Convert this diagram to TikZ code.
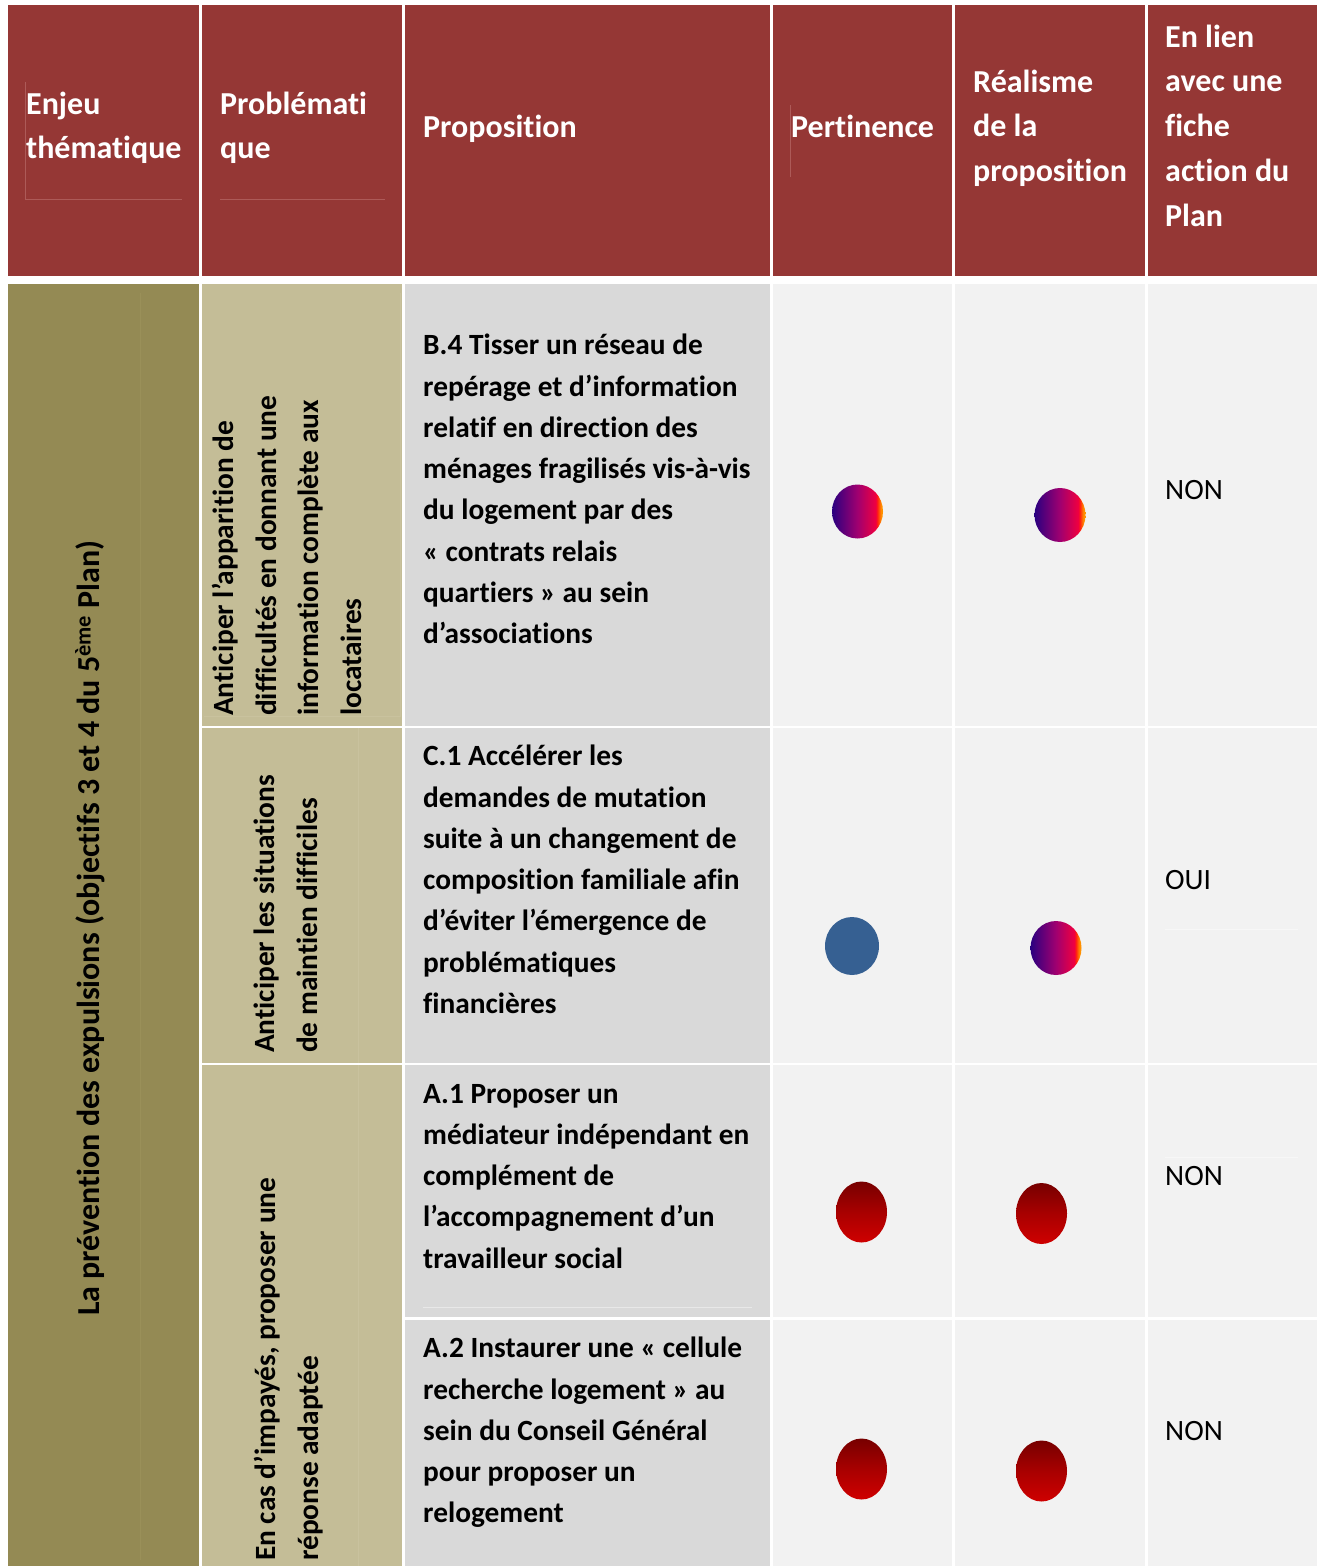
\documentclass[tikz,border=0pt]{standalone}
\usepackage{fontspec}
\setmainfont[Ligatures=NoCommon]{Carlito}
\usetikzlibrary{shapes.geometric}
\definecolor{hdr}{HTML}{953735}
\definecolor{olive}{HTML}{948A54}
\definecolor{khaki}{HTML}{C4BD97}
\definecolor{greyA}{HTML}{D9D9D9}
\definecolor{greyB}{HTML}{F2F2F2}
\definecolor{fainthdr}{HTML}{AD5A58}
\definecolor{faintolive}{HTML}{9A9059}
\definecolor{faintkhaki}{HTML}{C9C29E}
\definecolor{faintgrey}{HTML}{E8E8E8}
\definecolor{faintlight}{HTML}{F7F7F7}
\definecolor{c1}{HTML}{2A0080}
\definecolor{c2}{HTML}{A00070}
\definecolor{c3}{HTML}{F00040}
\definecolor{c4}{HTML}{FF2010}
\definecolor{c5}{HTML}{FF9000}
\definecolor{r1}{HTML}{770000}
\definecolor{rm}{HTML}{A80000}
\definecolor{r2}{HTML}{CC0000}
\definecolor{blueball}{HTML}{366092}
\pgfdeclarehorizontalshading{violetred}{100bp}{color(0bp)=(c1); color(25bp)=(c1); color(50bp)=(c2); color(68bp)=(c3); color(69.5bp)=(c4); color(73bp)=(c5); color(100bp)=(c5)}
\pgfdeclareverticalshading{darkred}{100bp}{color(0bp)=(r2); color(27bp)=(r2); color(50bp)=(rm); color(75bp)=(r1); color(100bp)=(r1)}
\newcommand{\st}{\rule{0pt}{20pt}}
\tikzset{
  x=1pt,y=-1pt,
  hcell/.style={fill=hdr},
  ocell/.style={fill=olive},
  kcell/.style={fill=khaki},
  gcell/.style={fill=greyA},
  lcell/.style={fill=greyB},
  htext/.style={anchor=north west,inner sep=0pt,align=left,text=white,font=\fontsize{32}{44.8}\selectfont\bfseries},
  btext/.style={anchor=north west,inner sep=0pt,align=left,text=black,font=\fontsize{29.35}{41.25}\selectfont\bfseries},
  ptext/.style={anchor=north west,inner sep=0pt,align=left,text=black,font=\fontsize{29.5}{41.25}\selectfont},
  vtext/.style={btext,rotate=90,font=\fontsize{29.35}{42.6}\selectfont\bfseries},
  ball/.style={ellipse,inner sep=0pt},
  vball/.style={ball,shading=violetred,minimum width=51pt,minimum height=54pt},
  rball/.style={ball,shading=darkred,minimum width=51pt,minimum height=61pt},
  bball/.style={ball,fill=blueball,minimum width=54pt,minimum height=58pt},
  rulefine/.style={line width=.7pt},
}
\begin{document}
\begin{tikzpicture}
\useasboundingbox (0,0) rectangle (1324,1566);
\fill[white] (0,0) rectangle (1324,1566);
% header cells
\fill[hcell] (8,5) rectangle (199,276);
\fill[hcell] (202,5) rectangle (402,276);
\fill[hcell] (405,5) rectangle (770,276);
\fill[hcell] (773,5) rectangle (952,276);
\fill[hcell] (955,5) rectangle (1145,276);
\fill[hcell] (1148,5) rectangle (1317,276);
% body cells
\fill[ocell] (8,284) rectangle (199,1566);
\fill[kcell] (202,284) rectangle (402,726);
\fill[kcell] (202,728) rectangle (402,1063);
\fill[kcell] (202,1065) rectangle (402,1566);
\fill[gcell] (405,284) rectangle (770,726);
\fill[gcell] (405,728) rectangle (770,1063);
\fill[gcell] (405,1065) rectangle (770,1317);
\fill[gcell] (405,1320) rectangle (770,1566);
\foreach \xa/\xb in {773/952,955/1145,1148/1317}{
  \fill[lcell] (\xa,284) rectangle (\xb,726);
  \fill[lcell] (\xa,728) rectangle (\xb,1063);
  \fill[lcell] (\xa,1065) rectangle (\xb,1317);
  \fill[lcell] (\xa,1320) rectangle (\xb,1566);
}
% faint rules
\draw[fainthdr,rulefine] (25.5,82) -- (25.5,199.5) -- (182,199.5);
\draw[fainthdr,rulefine] (220,199.5) -- (385,199.5);
\draw[fainthdr,rulefine] (790.5,105) -- (790.5,177);
\draw[faintolive,rulefine] (140.5,293) -- (140.5,1560);
\draw[faintkhaki,rulefine] (204,716.5) -- (400.5,716.5) -- (400.5,293);
\draw[faintkhaki,rulefine] (358.5,728) -- (358.5,1063);
\draw[faintkhaki,rulefine] (358.5,1065) -- (358.5,1566);
\draw[faintgrey,rulefine] (423,1307.5) -- (752,1307.5);
\draw[faintlight,rulefine] (1165,929.5) -- (1298,929.5);
\draw[faintlight,rulefine] (1165,1157.5) -- (1298,1157.5);
% header text
\node[htext] (h1) at (26,91.5) {\st Enjeu\\thématique};
\node[htext] (h2) at (220,91.5) {\st Problémati\\que};
\node[htext] (h3) at (423,114.5) {\st Proposition};
\node[htext] (h4) at (791,114.5) {\st Pertinence};
\node[htext] (h5) at (973,69.5) {\st Réalisme\\de la\\proposition};
\node[htext] (h6) at (1165,24.5) {\st En lien\\avec une\\fiche\\action du\\Plan};
% rotated text
\node[vtext,font=\fontsize{32}{44}\selectfont\bfseries] (enjeu) at (75,1316) {\st La prévention des expulsions (objectifs 3 et 4 du 5\textsuperscript{ème} Plan)};
\node[vtext] (p1) at (212,716) {\st Anticiper l’apparition de\\difficultés en donnant une\\information complète aux\\locataires};
\node[vtext] (p2) at (254,1053) {\st Anticiper les situations\\de maintien difficiles};
\node[vtext] (p3) at (254,1561) {\st En cas d’impayés, proposer une\\réponse adaptée};
% propositions
\node[btext] (b4) at (423,334) {\st B.4 Tisser un réseau de\\repérage et d’information\\relatif en direction des\\ménages fragilisés vis-à-vis\\du logement par des\\« contrats relais\\quartiers » au sein\\d’associations};
\node[btext] (c1) at (423,745) {\st C.1 Accélérer les\\demandes de mutation\\suite à un changement de\\composition familiale afin\\d’éviter l’émergence de\\problématiques\\financières};
\node[btext] (a1) at (423,1083) {\st A.1 Proposer un\\médiateur indépendant en\\complément de\\l’accompagnement d’un\\travailleur social};
\node[btext] (a2) at (423,1337) {\st A.2 Instaurer une « cellule\\recherche logement » au\\sein du Conseil Général\\pour proposer un\\relogement};
% plan answers
\node[ptext] (n1) at (1165,479) {\st NON};
\node[ptext] (n2) at (1165,869) {\st OUI};
\node[ptext] (n3) at (1165,1165) {\st NON};
\node[ptext] (n4) at (1165,1420) {\st NON};
% balls
\node[vball] (b1a) at (857.5,511.5) {};
\node[vball] (b1b) at (1060,515) {};
\node[bball] (b2a) at (852,946) {};
\node[vball] (b2b) at (1056,948) {};
\node[rball] (b3a) at (861.5,1212) {};
\node[rball] (b3b) at (1041.5,1213.5) {};
\node[rball] (b4a) at (861.5,1469) {};
\node[rball] (b4b) at (1041.5,1471) {};
\end{tikzpicture}
\end{document}
